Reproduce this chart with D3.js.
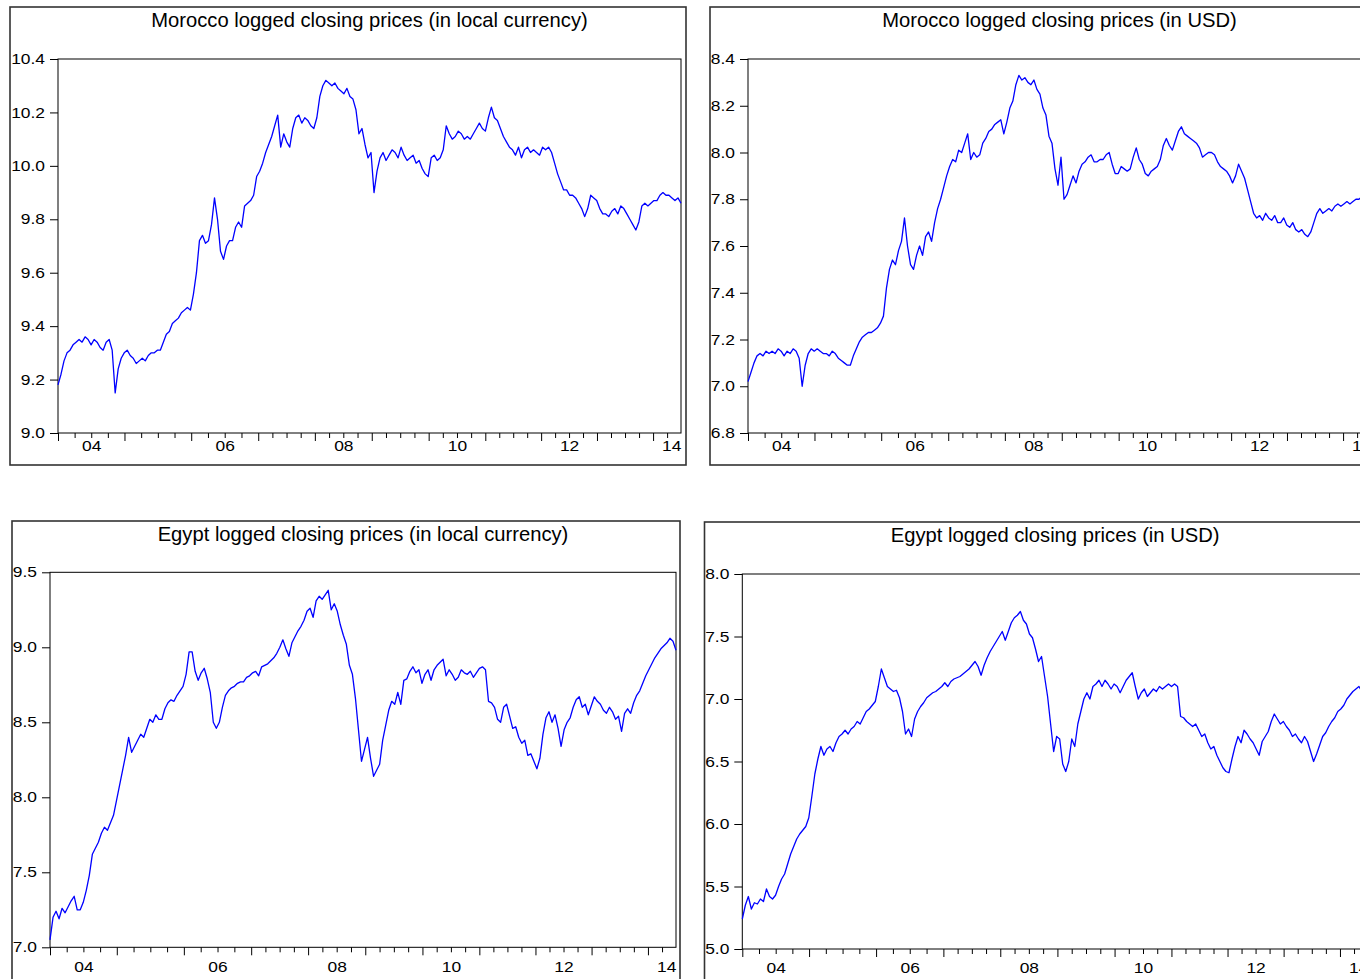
<!DOCTYPE html>
<html>
<head>
<meta charset="utf-8">
<script src="https://cdn.jsdelivr.net/npm/d3@7"></script>
<style>
  body { margin: 0; background: #fff; }
  svg { display: block; }
  text { font-family: "Liberation Sans", Arial, sans-serif; fill: #000; }
</style>
</head>
<body>
<svg id="chart" width="1360" height="979"></svg>
<script>
// Calendar years on the observation axis and trading days recorded in each (2014 is partial)
const years = [2004, 2005, 2006, 2007, 2008, 2009, 2010, 2011, 2012, 2013, 2014];
const tradingDays = [250, 251, 252, 213, 214, 214, 213, 210, 210, 211, 106];
const fullYearDays = [250, 251, 252, 213, 214, 214, 213, 210, 210, 211, 211];
const labeledYears = [2004, 2006, 2008, 2010, 2012, 2014];
const yearLabels = ["04", "06", "08", "10", "12", "14"];

// Y axis tick values per panel
const moroccoLocalTicks = [9.0, 9.2, 9.4, 9.6, 9.8, 10.0, 10.2, 10.4];
const moroccoUsdTicks = [6.8, 7.0, 7.2, 7.4, 7.6, 7.8, 8.0, 8.2, 8.4];
const egyptLocalTicks = [7.0, 7.5, 8.0, 8.5, 9.0, 9.5];
const egyptUsdTicks = [5.0, 5.5, 6.0, 6.5, 7.0, 7.5, 8.0];

// Logged closing prices, evenly spaced over the trading-day observations
const moroccoLocal = [
  9.18,9.22,9.27,9.30,9.31,9.33,9.34,9.35,9.34,9.36,
  9.35,9.33,9.35,9.34,9.32,9.31,9.34,9.35,9.31,9.15,
  9.24,9.28,9.30,9.31,9.29,9.28,9.26,9.27,9.28,9.27,
  9.29,9.30,9.30,9.31,9.31,9.34,9.37,9.38,9.41,9.42,
  9.43,9.45,9.46,9.47,9.46,9.52,9.60,9.72,9.74,9.71,
  9.72,9.78,9.88,9.80,9.68,9.65,9.70,9.72,9.72,9.77,
  9.79,9.77,9.85,9.86,9.87,9.89,9.96,9.98,10.01,10.05,
  10.08,10.11,10.15,10.19,10.07,10.12,10.09,10.07,10.14,10.18,
  10.19,10.16,10.18,10.17,10.15,10.14,10.18,10.26,10.30,10.32,
  10.31,10.30,10.31,10.29,10.28,10.27,10.29,10.26,10.25,10.21,
  10.12,10.14,10.08,10.03,10.05,9.90,9.98,10.03,10.05,10.02,
  10.04,10.06,10.05,10.03,10.07,10.04,10.02,10.03,10.04,10.01,
  10.02,9.99,9.97,9.96,10.03,10.04,10.02,10.03,10.06,10.15,
  10.12,10.10,10.11,10.13,10.12,10.10,10.11,10.10,10.12,10.14,
  10.16,10.14,10.13,10.18,10.22,10.18,10.17,10.14,10.11,10.09,
  10.07,10.06,10.04,10.07,10.03,10.06,10.07,10.05,10.06,10.05,
  10.04,10.07,10.06,10.07,10.05,10.01,9.97,9.94,9.91,9.91,
  9.89,9.89,9.88,9.86,9.84,9.81,9.84,9.89,9.88,9.87,
  9.84,9.82,9.82,9.81,9.83,9.84,9.82,9.85,9.84,9.82,
  9.80,9.78,9.76,9.79,9.85,9.86,9.85,9.86,9.87,9.87,
  9.89,9.90,9.89,9.89,9.88,9.87,9.88,9.86
];

const moroccoUsd = [
  7.02,7.06,7.10,7.13,7.14,7.13,7.15,7.14,7.15,7.14,
  7.16,7.15,7.13,7.15,7.14,7.16,7.15,7.12,7.00,7.09,
  7.14,7.16,7.15,7.16,7.15,7.14,7.14,7.13,7.15,7.14,
  7.12,7.11,7.10,7.09,7.09,7.13,7.16,7.19,7.21,7.22,
  7.23,7.23,7.24,7.25,7.27,7.30,7.42,7.50,7.54,7.52,
  7.58,7.62,7.72,7.60,7.52,7.50,7.56,7.60,7.56,7.64,
  7.66,7.62,7.70,7.76,7.80,7.85,7.90,7.94,7.97,7.96,
  8.01,8.00,8.04,8.08,7.97,8.00,7.98,7.99,8.04,8.06,
  8.09,8.10,8.12,8.13,8.14,8.08,8.13,8.19,8.22,8.29,
  8.33,8.31,8.32,8.30,8.29,8.31,8.27,8.25,8.19,8.16,
  8.07,8.04,7.93,7.86,7.98,7.80,7.82,7.86,7.90,7.87,
  7.92,7.95,7.96,7.98,7.99,7.96,7.96,7.97,7.97,7.99,
  8.00,7.95,7.91,7.91,7.94,7.93,7.92,7.93,7.98,8.02,
  7.97,7.95,7.91,7.90,7.92,7.93,7.94,7.97,8.03,8.06,
  8.03,8.01,8.05,8.09,8.11,8.08,8.07,8.06,8.05,8.04,
  8.02,7.98,7.99,8.00,8.00,7.99,7.96,7.94,7.93,7.92,
  7.90,7.87,7.90,7.95,7.92,7.89,7.84,7.79,7.74,7.72,
  7.73,7.71,7.74,7.72,7.71,7.73,7.70,7.70,7.72,7.69,
  7.68,7.70,7.67,7.66,7.67,7.65,7.64,7.66,7.70,7.74,
  7.76,7.74,7.75,7.76,7.75,7.77,7.78,7.77,7.78,7.79,
  7.78,7.79,7.80,7.80,7.81,7.80,7.81,7.80
];

const egyptLocal = [
  7.05,7.20,7.24,7.19,7.26,7.23,7.27,7.31,7.34,7.25,
  7.25,7.30,7.38,7.48,7.62,7.66,7.70,7.76,7.80,7.78,
  7.83,7.88,7.98,8.08,8.18,8.28,8.40,8.30,8.34,8.38,
  8.42,8.40,8.46,8.52,8.50,8.55,8.52,8.52,8.59,8.63,
  8.65,8.64,8.68,8.71,8.74,8.82,8.97,8.97,8.84,8.78,
  8.83,8.86,8.79,8.70,8.50,8.46,8.50,8.60,8.68,8.71,
  8.73,8.74,8.76,8.77,8.77,8.80,8.81,8.83,8.84,8.81,
  8.87,8.88,8.89,8.91,8.93,8.96,9.00,9.05,8.99,8.94,
  9.03,9.07,9.11,9.14,9.18,9.24,9.26,9.20,9.31,9.34,
  9.32,9.35,9.38,9.25,9.29,9.24,9.15,9.08,9.02,8.88,
  8.82,8.66,8.45,8.24,8.32,8.40,8.26,8.14,8.18,8.22,
  8.38,8.48,8.58,8.64,8.62,8.70,8.62,8.78,8.79,8.84,
  8.87,8.83,8.85,8.76,8.82,8.85,8.78,8.85,8.88,8.90,
  8.92,8.81,8.85,8.82,8.78,8.80,8.85,8.83,8.82,8.84,
  8.80,8.83,8.86,8.87,8.85,8.64,8.63,8.60,8.52,8.50,
  8.60,8.62,8.54,8.46,8.47,8.40,8.36,8.38,8.28,8.29,
  8.24,8.19,8.26,8.42,8.53,8.57,8.50,8.55,8.46,8.34,
  8.45,8.50,8.53,8.60,8.65,8.67,8.60,8.62,8.55,8.61,
  8.67,8.64,8.62,8.58,8.56,8.60,8.57,8.52,8.54,8.44,
  8.56,8.59,8.56,8.63,8.68,8.71,8.76,8.81,8.85,8.89,
  8.93,8.96,8.99,9.01,9.03,9.06,9.04,8.98
];

const egyptUsd = [
  5.24,5.35,5.42,5.32,5.37,5.36,5.40,5.38,5.48,5.42,
  5.40,5.43,5.50,5.56,5.60,5.68,5.76,5.82,5.88,5.92,
  5.95,5.98,6.05,6.22,6.40,6.52,6.62,6.55,6.60,6.62,
  6.58,6.65,6.70,6.72,6.75,6.72,6.76,6.78,6.82,6.80,
  6.85,6.90,6.92,6.95,6.98,7.10,7.24,7.17,7.10,7.08,
  7.06,7.07,7.01,6.90,6.72,6.76,6.70,6.84,6.90,6.94,
  6.97,7.01,7.03,7.05,7.06,7.08,7.10,7.13,7.10,7.14,
  7.16,7.17,7.18,7.20,7.22,7.24,7.27,7.30,7.26,7.19,
  7.27,7.33,7.38,7.42,7.46,7.50,7.54,7.47,7.54,7.61,
  7.65,7.67,7.70,7.63,7.60,7.52,7.49,7.40,7.30,7.34,
  7.18,7.02,6.80,6.58,6.70,6.68,6.48,6.42,6.50,6.68,
  6.62,6.80,6.90,7.00,7.05,7.00,7.10,7.12,7.15,7.10,
  7.15,7.12,7.08,7.12,7.10,7.05,7.10,7.15,7.18,7.21,
  7.10,7.00,7.05,7.08,7.02,7.05,7.08,7.06,7.10,7.08,
  7.10,7.12,7.10,7.12,7.10,6.86,6.85,6.82,6.80,6.78,
  6.80,6.75,6.70,6.72,6.65,6.60,6.62,6.55,6.50,6.45,
  6.42,6.41,6.52,6.62,6.70,6.65,6.75,6.72,6.68,6.65,
  6.60,6.55,6.66,6.70,6.74,6.82,6.88,6.84,6.80,6.82,
  6.78,6.75,6.70,6.72,6.68,6.65,6.70,6.66,6.58,6.50,
  6.56,6.63,6.70,6.73,6.78,6.82,6.85,6.90,6.92,6.95,
  7.00,7.03,7.06,7.08,7.10,7.06,7.08,7.05
];

// Panel layout: outer frame [x, y, w, h] and plot box [left, top, right, bottom]
const panels = [
  { title: "Morocco logged closing prices (in local currency)", values: moroccoLocal, ticks: moroccoLocalTicks,
    frame: [10, 7, 676, 458], plot: [58, 59, 681, 433], labelGap: 8 },
  { title: "Morocco logged closing prices (in USD)", values: moroccoUsd, ticks: moroccoUsdTicks,
    frame: [710, 7, 676, 458], plot: [748, 59, 1371, 433], labelGap: 8 },
  { title: "Egypt logged closing prices (in local currency)", values: egyptLocal, ticks: egyptLocalTicks,
    frame: [12, 521, 668, 470], plot: [50, 572.3, 676, 947.3], labelGap: 14 },
  { title: "Egypt logged closing prices (in USD)", values: egyptUsd, ticks: egyptUsdTicks,
    frame: [704.5, 522, 668, 470], plot: [742.3, 574, 1368, 949], labelGap: 14 }
];

const SX = 1.2;           // horizontal stretch of tick lettering
const TICK_FONT = "14.5px";

const totalObs = d3.sum(tradingDays);
const yearStart = years.map((_, i) => d3.sum(tradingDays.slice(0, i)));
const lastObs = totalObs - 1;

const majorTicks = yearStart.filter(o => o <= lastObs);
const quarterTicks = [];
years.forEach((yr, i) => {
  for (let q = 1; q < 4; q++) {
    const o = yearStart[i] + q * fullYearDays[i] / 4;
    if (o <= lastObs) quarterTicks.push(o);
  }
});
const labelObs = labeledYears.map(yr => {
  const i = years.indexOf(yr);
  return yearStart[i] + fullYearDays[i] / 2;
});

const svg = d3.select("#chart");

panels.forEach(p => {
  const [fx, fy, fw, fh] = p.frame;
  const [x0, y0, x1, y1] = p.plot;
  const n = p.values.length;

  const x = d3.scaleLinear().domain([0, lastObs]).range([x0, x1]);
  const y = d3.scaleLinear().domain([p.ticks[0], p.ticks[p.ticks.length - 1]]).range([y1, y0]);

  const g = svg.append("g");

  g.append("rect")
    .attr("x", fx).attr("y", fy).attr("width", fw).attr("height", fh)
    .attr("fill", "none").attr("stroke", "#333").attr("stroke-width", 1.6);

  g.append("text")
    .attr("x", (x0 + x1) / 2).attr("y", fy + 20)
    .attr("text-anchor", "middle")
    .style("font-size", "20.2px")
    .text(p.title);

  g.append("rect")
    .attr("x", x0).attr("y", y0).attr("width", x1 - x0).attr("height", y1 - y0)
    .attr("fill", "none").attr("stroke", "#000").attr("stroke-width", 1);

  // Y axis
  const ya = g.append("g").attr("transform", `translate(${x0},0)`)
    .call(d3.axisLeft(y).tickValues(p.ticks).tickSize(8).tickFormat(d3.format(".1f")));
  ya.select(".domain").remove();
  ya.selectAll("text")
    .style("font-size", TICK_FONT)
    .attr("x", -13 / SX)
    .attr("transform", `scale(${SX},1)`);

  // X axis: year ticks, quarter ticks, year labels
  const xa = g.append("g").attr("transform", `translate(0,${y1})`);
  xa.append("g").call(d3.axisBottom(x).tickValues(majorTicks).tickSize(8).tickFormat(""))
    .select(".domain").remove();
  xa.append("g").call(d3.axisBottom(x).tickValues(quarterTicks).tickSize(5).tickFormat(""))
    .select(".domain").remove();
  const lab = xa.append("g").call(
      d3.axisBottom(x).tickValues(labelObs).tickSize(0).tickPadding(p.labelGap)
        .tickFormat((d, i) => yearLabels[i]));
  lab.select(".domain").remove();
  lab.selectAll("text")
    .style("font-size", TICK_FONT)
    .attr("transform", `scale(${SX},1)`)
    .each(function(d) {
      const w = this.getBBox().width * SX;
      const px = x(d);
      let shift = 0;
      if (px + w / 2 > x1) shift = x1 - w / 2 - px;
      if (px - w / 2 < x0) shift = x0 + w / 2 - px;
      d3.select(this).attr("x", shift / SX);
    });

  // Price line
  const line = d3.line()
    .x((d, i) => x(i * lastObs / (n - 1)))
    .y(d => y(d));
  g.append("path")
    .datum(p.values)
    .attr("d", line)
    .attr("fill", "none")
    .attr("stroke", "#0000ff")
    .attr("stroke-width", 1.3)
    .attr("stroke-linejoin", "round");
});
</script>
</body>
</html>
